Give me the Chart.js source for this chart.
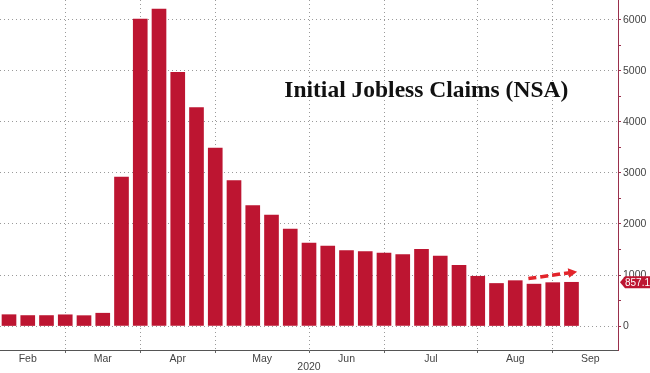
<!DOCTYPE html>
<html>
<head>
<meta charset="utf-8">
<script src="https://cdn.jsdelivr.net/npm/chart.js@4"></script>
<style>
  html, body { margin: 0; padding: 0; background: #fff; }
  #wrap { width: 650px; height: 373px; }
</style>
</head>
<body>
<div id="wrap"><canvas id="claims" width="650" height="373"></canvas></div>
<script>
// weekly initial claims, NSA, thousands (week ending Feb 8 .. Sep 5, 2020)
const claims = [222, 205, 205, 220, 203, 251, 2920, 6015, 6211, 4971, 4281, 3489, 2849, 2362, 2175, 1899,
  1625, 1566, 1481, 1460, 1428, 1398, 1504, 1370, 1189, 975, 834, 889, 821, 850, 857.1];
const monthNames = ["Feb", "Mar", "Apr", "May", "Jun", "Jul", "Aug", "Sep"];
const monthLabelAt = [1, 5, 9, 13.5, 18, 22.5, 27, 31];   // bar index where month names sit
const monthGridAt = [3, 7, 11, 16, 20, 25, 29];          // bar index of vertical grid lines
const yTicks = [0, 500, 1000, 1500, 2000, 2500, 3000, 3500, 4000, 4500, 5000, 5500, 6000];
const trendFrom = { x: 27.7, y: 930 };
const trendTo = { x: 30.3, y: 1065 };
const lastLabel = "857.1";

const barColor = "#bd1531";
const axisRed = "#9a2f4c";
const gridGray = "#9a9a9a";
const narrow = "'Liberation Sans Narrow', 'Liberation Sans', Arial, sans-serif";

const points = claims.map((v, i) => ({ x: i, y: v }));

const overlay = {
  id: "overlay",
  afterDraw(chart) {
    const ctx = chart.ctx, xs = chart.scales.x, ys = chart.scales.y, area = chart.chartArea;

    // title
    ctx.save();
    ctx.fillStyle = "#111";
    ctx.font = "bold 23.5px 'Liberation Serif', 'Times New Roman', serif";
    ctx.textBaseline = "alphabetic";
    ctx.textAlign = "left";
    ctx.fillText("Initial Jobless Claims (NSA)", area.left + area.width * 0.46, 97);
    ctx.restore();

    // dashed trend arrow
    const x1 = xs.getPixelForValue(trendFrom.x), y1 = ys.getPixelForValue(trendFrom.y);
    const x2 = xs.getPixelForValue(trendTo.x), y2 = ys.getPixelForValue(trendTo.y);
    const ang = Math.atan2(y2 - y1, x2 - x1);
    ctx.save();
    ctx.strokeStyle = "#e3242b";
    ctx.fillStyle = "#e3242b";
    ctx.lineWidth = 3.5;
    ctx.setLineDash([8, 4]);
    ctx.beginPath();
    ctx.moveTo(x1, y1);
    ctx.lineTo(x2 - 7 * Math.cos(ang), y2 - 7 * Math.sin(ang));
    ctx.stroke();
    ctx.setLineDash([]);
    ctx.beginPath();
    ctx.moveTo(x2, y2);
    ctx.lineTo(x2 - 10 * Math.cos(ang - 0.5), y2 - 10 * Math.sin(ang - 0.5));
    ctx.lineTo(x2 - 10 * Math.cos(ang + 0.5), y2 - 10 * Math.sin(ang + 0.5));
    ctx.closePath();
    ctx.fill();
    ctx.restore();

    // last value tag on the right axis
    const ty = ys.getPixelForValue(claims[claims.length - 1]);
    const tx = area.right + 2;
    ctx.save();
    ctx.fillStyle = barColor;
    ctx.beginPath();
    ctx.moveTo(tx, ty);
    ctx.lineTo(tx + 5, ty - 6);
    ctx.lineTo(650, ty - 6);
    ctx.lineTo(650, ty + 6);
    ctx.lineTo(tx + 5, ty + 6);
    ctx.closePath();
    ctx.fill();
    ctx.fillStyle = "#fff";
    ctx.font = "10px " + narrow;
    ctx.textBaseline = "middle";
    ctx.textAlign = "left";
    ctx.fillText(lastLabel, tx + 5, ty + 0.5);
    ctx.restore();
  }
};

new Chart(document.getElementById("claims"), {
  type: "bar",
  data: {
    datasets: [{
      data: points,
      backgroundColor: barColor,
      borderWidth: 0,
      barThickness: 14
    }]
  },
  options: {
    responsive: false,
    animation: false,
    layout: { padding: 0 },
    plugins: { legend: { display: false }, tooltip: { enabled: false } },
    scales: {
      x: {
        type: "linear",
        offset: false,
        min: -0.48,
        max: 32.48,
        afterBuildTicks: scale => {
          scale.ticks = monthLabelAt.concat(monthGridAt).sort((a, b) => a - b).map(v => ({ value: v }));
        },
        afterFit: scale => {
          scale.height = 23;
          scale.paddingLeft = 0;
          scale.paddingRight = 0;
        },
        ticks: {
          autoSkip: false,
          maxRotation: 0,
          padding: 0,
          color: "#444",
          font: { family: narrow, size: 10.5 },
          callback: v => {
            const k = monthLabelAt.indexOf(v);
            return k >= 0 ? monthNames[k] : "";
          }
        },
        grid: {
          offset: false,
          color: c => monthGridAt.includes(c.tick && c.tick.value) ? gridGray : "rgba(0,0,0,0)",
          tickColor: c => monthGridAt.includes(c.tick && c.tick.value) ? "#666" : "rgba(0,0,0,0)",
          tickLength: 3,
          lineWidth: 1
        },
        border: { display: true, color: "#555", width: 1, dash: [1, 3] },
        title: {
          display: true,
          text: "2020",
          color: "#444",
          font: { family: narrow, size: 10.5 },
          padding: { top: 0, bottom: 0 }
        }
      },
      y: {
        position: "right",
        min: -470,
        max: 6390,
        afterBuildTicks: scale => { scale.ticks = yTicks.map(v => ({ value: v })); },
        afterFit: scale => {
          scale.width = 32;
          scale.paddingTop = 0;
          scale.paddingBottom = 0;
        },
        ticks: {
          padding: 2,
          color: "#444",
          font: { family: narrow, size: 10.5 },
          callback: v => (v % 1000 === 0 ? String(v) : "")
        },
        grid: {
          color: c => (c.tick && c.tick.value % 1000 === 0) ? gridGray : "rgba(0,0,0,0)",
          tickColor: axisRed,
          tickLength: 3
        },
        border: { display: true, color: axisRed, width: 1, dash: [1, 3] }
      }
    }
  },
  plugins: [overlay]
});
</script>
</body>
</html>
